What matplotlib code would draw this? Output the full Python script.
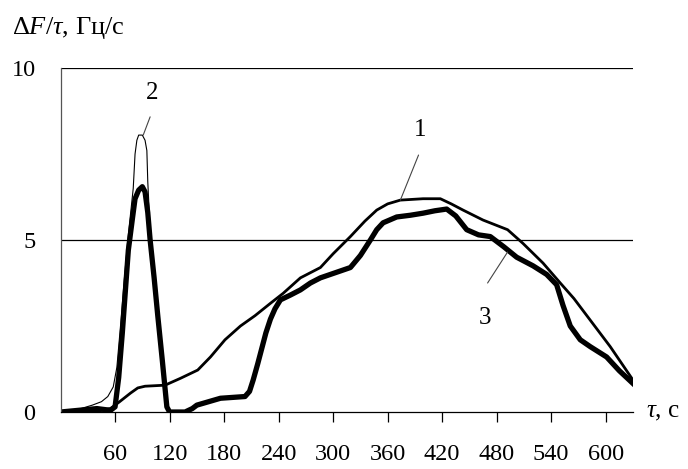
import matplotlib
matplotlib.use('Agg')
import matplotlib.pyplot as plt

plt.rcParams['font.family'] = ['Liberation Serif', 'DejaVu Serif']
plt.rcParams['mathtext.fontset'] = 'custom'
plt.rcParams['mathtext.rm'] = 'Liberation Serif'
plt.rcParams['mathtext.it'] = 'Liberation Serif:italic'

# curve 1 (medium line)
t1 = [0, 20, 40, 55, 65, 77, 85, 93, 115, 132, 151, 165, 181, 198, 214, 231,
      245, 264, 286, 300, 319, 335, 348, 360, 374, 399, 418, 430, 443, 465,
      492, 509, 531, 550, 565, 583, 605, 630]
v1 = [0, 0.0, 0.02, 0.1, 0.3, 0.55, 0.7, 0.75, 0.78, 0.98, 1.22, 1.6, 2.1,
      2.5, 2.8, 3.16, 3.45, 3.9, 4.2, 4.6, 5.1, 5.55, 5.87, 6.05, 6.16, 6.2,
      6.2, 6.05, 5.87, 5.58, 5.3, 4.9, 4.33, 3.75, 3.3, 2.67, 1.9, 0.93]

# curve 2 (thin line)
t2 = [0, 20, 35, 45, 52, 58, 62, 66, 70, 74, 78, 80, 82, 84, 86, 90, 93, 95,
      96, 98, 100, 103, 107, 112, 117, 120, 135]
v2 = [0, 0.08, 0.2, 0.3, 0.45, 0.73, 1.3, 2.5, 3.8, 5.0, 6.0, 6.5, 7.5, 7.9,
      8.05, 8.05, 7.9, 7.6, 6.7, 5.6, 4.8, 3.9, 2.8, 1.5, 0.15, 0.0, 0.0]

# curve 3 (bold line)
t3 = [0, 20, 40, 55, 60, 64, 68, 74.6, 79, 82, 86, 90, 93, 96, 98.6, 103,
      107, 112, 117, 120, 137, 145, 150, 163, 176, 203, 208, 212, 217, 222,
      226, 231, 236, 242, 253, 264, 275, 286, 297, 308, 319, 330, 341, 348,
      355, 370, 385, 399, 412, 425, 435, 447, 460, 473, 488, 502, 520, 535,
      546, 553, 561, 572, 583, 601, 615, 630]
v3 = [0, 0.05, 0.1, 0.05, 0.15, 1.0, 2.3, 4.7, 5.6, 6.2, 6.45, 6.55, 6.4,
      5.8, 5.0, 3.9, 2.8, 1.5, 0.15, 0.0, 0.0, 0.1, 0.2, 0.3, 0.4, 0.45, 0.6,
      0.93, 1.4, 1.9, 2.3, 2.7, 3.0, 3.26, 3.4, 3.55, 3.75, 3.9, 4.0, 4.1,
      4.2, 4.55, 5.0, 5.3, 5.5, 5.67, 5.72, 5.78, 5.85, 5.9, 5.7, 5.3, 5.15,
      5.1, 4.8, 4.5, 4.25, 4.0, 3.7, 3.1, 2.5, 2.1, 1.9, 1.6, 1.2, 0.83]

xticks = [60, 120, 180, 240, 300, 360, 420, 480, 540, 600]
yticks = [0, 5, 10]

# curve labels: text, label position, leader start, leader end
labels = ['1', '2', '3']
label_pos = [(396, 8.2), (101, 9.27), (467, 2.73)]
leader_from = [(394, 7.47), (98.6, 8.58), (470, 3.75)]
leader_to = [(374, 6.16), (91, 8.05), (492, 4.65)]

fig = plt.figure(figsize=(6.88, 4.69), dpi=100)
ax = fig.add_axes([0.088, 0.1215, 0.832, 0.7335])

ax.plot(t1, v1, color='black', lw=2.0, solid_joinstyle='round')
ax.plot(t2, v2, color='black', lw=0.8)
ax.plot(t3, v3, color='black', lw=3.8, solid_joinstyle='round')

ax.set_xlim(0, 630)
ax.set_ylim(0, 10)
for yv in yticks[1:]:
    ax.axhline(yv, color='black', lw=0.9)

ax.set_xticks(xticks)
ax.set_yticks(yticks)
ax.tick_params(axis='x', direction='out', length=7, width=0.9, pad=16,
               labelsize=17.5)
ax.tick_params(axis='y', length=0, pad=18, labelsize=17.5)
for s in ['top', 'right']:
    ax.spines[s].set_visible(False)
for s in ['left', 'bottom']:
    ax.spines[s].set_linewidth(0.9)
ax.spines['left'].set_color('#555555')

for lab, pos, a, b in zip(labels, label_pos, leader_from, leader_to):
    ax.text(pos[0], pos[1], lab, fontsize=18, ha='center', va='center')
    ax.annotate('', xy=b, xytext=a,
                arrowprops=dict(arrowstyle='-', color='#444444', lw=0.8,
                                shrinkA=0, shrinkB=0))

ax.text(1.022, 0, r'$\tau$, с', transform=ax.transAxes, fontsize=18,
        ha='left', va='center')
fig.text(0.017, 0.94, r'$\Delta F/\tau$, Гц/с', fontsize=19,
         ha='left', va='center')

fig.savefig('out.png', dpi=100)
